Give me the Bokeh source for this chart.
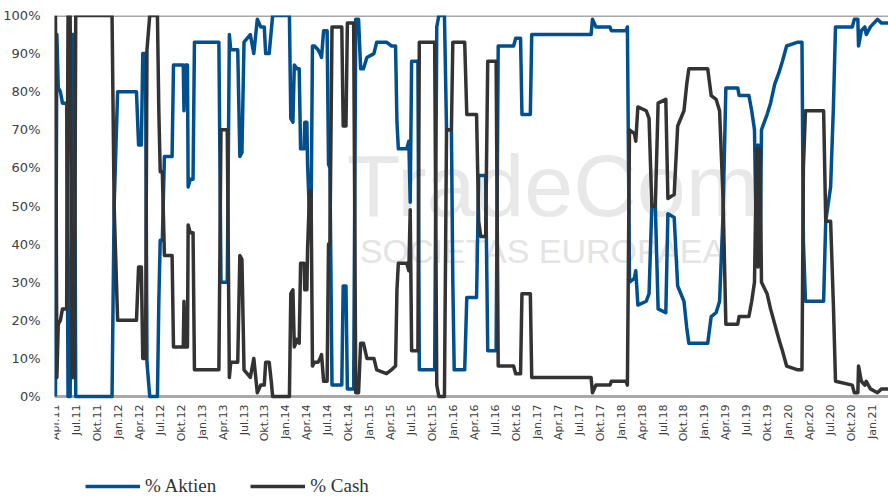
import math
from bokeh.plotting import figure
from bokeh.models import Range1d, SingleIntervalTicker, Legend, LegendItem, CustomJSTickFormatter, Span
from bokeh.core.properties import value
from bokeh.embed import file_html
from bokeh.resources import INLINE

# months since 1 Apr 2011
months = [0.0, 0.2, 0.4, 0.7, 1.0, 1.6, 1.8, 2.1, 2.4, 2.7, 2.9, 8.1, 8.4, 8.9, 11.6, 11.9, 12.3, 12.5, 12.9, 13.1,
          13.5, 14.6, 14.8, 15.0, 15.3, 15.6, 16.7, 16.9, 18.3, 18.4, 18.6, 18.9, 19.0, 19.3, 19.7, 19.9, 23.4, 23.7, 24.6, 24.9,
          25.1, 26.1, 26.4, 26.7, 27.0, 27.9, 28.4, 28.9, 29.4, 29.9, 30.1, 30.6, 30.9, 31.1, 33.5, 33.7, 34.0, 34.2, 34.6, 34.9,
          35.1, 35.6, 35.7, 36.0, 36.1, 36.4, 36.6, 36.8, 37.1, 37.6, 37.9, 38.1, 38.4, 38.9, 39.1, 39.3, 39.6, 41.0, 41.2, 41.6,
          41.8, 42.7, 43.0, 43.4, 43.7, 44.1, 44.6, 45.6, 46.0, 47.4, 48.1, 48.7, 48.9, 49.1, 50.3, 50.6, 50.8, 51.0, 51.9, 52.1,
          54.3, 54.6, 54.9, 55.7, 56.0, 56.7, 56.9, 57.1, 58.6, 58.9, 60.3, 60.6, 60.9, 61.6, 61.9, 63.1, 63.4, 65.6, 65.9, 66.6,
          66.8, 68.0, 68.2, 76.7, 76.9, 77.4, 79.4, 79.6, 81.7, 81.9, 82.2, 82.9, 83.1, 83.4, 84.6, 85.0, 85.4, 85.9, 86.3, 87.4,
          87.7, 88.6, 89.1, 90.0, 90.4, 90.7, 93.4, 93.9, 94.6, 95.1, 95.6, 96.0, 97.7, 97.9, 99.3, 99.7, 100.1, 100.4, 100.6, 100.9,
          101.1, 101.9, 102.4, 103.0, 103.6, 104.1, 104.7, 106.3, 106.9, 107.1, 107.4, 110.0, 110.3, 111.0, 111.4, 111.7, 114.1, 114.4, 114.9, 115.0,
          115.4, 115.9, 116.1, 116.7, 117.7, 118.3, 119.3]

aktien = [0, 95, 81, 80, 77, 77, 0, 0, 95, 95, 0, 0, 50, 80, 80, 66, 66, 90, 90, 9,
          0, 0, 25, 41, 41, 63, 63, 87, 87, 75, 87, 87, 55, 57, 57, 93, 93, 30, 30, 95,
          91, 91, 63, 64, 93, 95, 90, 99, 97, 97, 90, 90, 96, 100, 100, 73, 72, 87, 86, 86,
          65, 65, 72, 72, 61, 46, 46, 92, 92, 91, 90, 89, 96, 96, 61, 60, 3, 3, 29, 29,
          2, 2, 99, 99, 86, 86, 89, 90, 93, 93, 92, 92, 72, 65, 65, 67, 51, 88, 88, 7,
          7, 97, 100, 100, 70, 70, 30, 7, 7, 26, 26, 58, 58, 58, 12, 12, 92, 92, 94, 94,
          74, 74, 95, 95, 99, 97, 97, 96, 96, 97, 30, 31, 33, 24, 25, 27, 50, 50, 23, 22,
          48, 47, 29, 25, 18, 14, 14, 21, 22, 25, 48, 81, 81, 79, 79, 75, 70, 35, 66, 35,
          70, 74, 77, 82, 85, 88, 92, 93, 93, 41, 25, 25, 46, 55, 76, 97, 97, 99, 99, 92,
          96, 97, 95, 97, 99, 98, 98]

cash = [100, 5, 19, 20, 23, 23, 100, 100, 5, 5, 100, 100, 50, 20, 20, 34, 34, 10, 10, 91,
        100, 100, 75, 59, 59, 37, 37, 13, 13, 25, 13, 13, 45, 43, 43, 7, 7, 70, 70, 5,
        9, 9, 37, 36, 7, 5, 10, 1, 3, 3, 9, 9, 4, 0, 0, 27, 28, 13, 15, 14,
        35, 35, 28, 28, 39, 54, 54, 8, 9, 9, 10, 11, 4, 4, 40, 40, 97, 97, 71, 71,
        98, 98, 1, 1, 14, 14, 10, 10, 7, 6, 7, 8, 28, 35, 35, 33, 49, 12, 12, 93,
        93, 3, 0, 0, 70, 70, 93, 93, 93, 74, 74, 46, 42, 42, 88, 88, 8, 8, 6, 6,
        27, 27, 5, 5, 1, 3, 3, 4, 4, 3, 70, 69, 67, 76, 75, 73, 50, 50, 77, 78,
        52, 53, 71, 75, 82, 86, 86, 79, 78, 75, 52, 19, 19, 21, 21, 25, 30, 65, 34, 65,
        30, 27, 23, 19, 15, 12, 8, 7, 7, 60, 75, 75, 46, 46, 24, 4, 3, 1, 1, 8,
        4, 3, 4, 2, 1, 2, 2]

tick_months = list(range(0, 118, 3))
tick_labels = ["Apr.11", "Jul.11", "Okt.11", "Jan.12", "Apr.12", "Jul.12", "Okt.12", "Jan.13",
               "Apr.13", "Jul.13", "Okt.13", "Jan.14", "Apr.14", "Jul.14", "Okt.14", "Jan.15",
               "Apr.15", "Jul.15", "Okt.15", "Jan.16", "Apr.16", "Jul.16", "Okt.16", "Jan.17",
               "Apr.17", "Jul.17", "Okt.17", "Jan.18", "Apr.18", "Jul.18", "Okt.18", "Jan.19",
               "Apr.19", "Jul.19", "Okt.19", "Jan.20", "Apr.20", "Jul.20", "Okt.20", "Jan.21"]
series_names = ["% Aktien", "% Cash"]

BLUE = "#00508f"
DARK = "#333333"
GRAY = "#a9a9a9"
X0, X1 = -0.14, 119.29
Y_BOTTOM = -26.5   # room below the 0% line for the month labels and the legend

p = figure(width=888, height=497, x_range=Range1d(X0, X1), y_range=Range1d(Y_BOTTOM, 100),
           output_backend="svg", toolbar_location=None, x_axis_location=None,
           min_border_left=52, min_border_right=0, min_border_top=15, min_border_bottom=0)
p.outline_line_color = None
p.xgrid.visible = False
p.ygrid.visible = False

# faint watermark, drawn first so the lines lie over it
p.text(x=[41.7], y=[55.4], text=["TradeCom"], text_align="left", text_baseline="middle",
       text_font=value("Liberation Sans"), text_font_size="88px", text_color="#e8e8e8")
p.text(x=[43.6], y=[38.1], text=["SOCIETAS EUROPAEA"], text_align="left", text_baseline="middle",
       text_font=value("Liberation Sans"), text_font_size="34px", text_color="#e4e4e4")

# frame lines at 0% and 100%, left edge
p.add_layout(Span(location=100, dimension="width", line_color=GRAY, line_width=3, level="underlay"))
p.add_layout(Span(location=0, dimension="width", line_color=GRAY, line_width=3, level="underlay"))
p.segment(x0=[X0], y0=[0], x1=[X0], y1=[100], line_color="#cfcfcf", line_width=1.5)

r_a = p.line(months, aktien, line_color=BLUE, line_width=3.5, line_join="round")
r_c = p.line(months, cash, line_color=DARK, line_width=3.5, line_join="round")

# month labels under the 0% line (vertical, reading upwards)
p.text(x=tick_months, y=[-2.1] * len(tick_months), text=tick_labels, angle=math.pi / 2,
       text_align="right", text_baseline="middle", text_font=value("DejaVu Sans"),
       text_font_size="11px", text_color="#404040")

# y axis
p.yaxis.ticker = SingleIntervalTicker(interval=10, num_minor_ticks=0)
p.yaxis.formatter = CustomJSTickFormatter(code="return tick >= 0 ? Math.round(tick) + '%' : '';")
p.yaxis.major_label_standoff = 8
p.yaxis.major_tick_line_color = None
p.yaxis.minor_tick_line_color = None
p.yaxis.axis_line_color = None
p.yaxis.major_label_text_font = "DejaVu Sans"
p.yaxis.major_label_text_font_size = "13px"
p.yaxis.major_label_text_color = "#404040"

# legend
legend = Legend(items=[LegendItem(label=value(series_names[0]), renderers=[r_a]),
                       LegendItem(label=value(series_names[1]), renderers=[r_c])],
                location=(31, 0), orientation="horizontal",
                glyph_width=55, glyph_height=22, label_standoff=5, spacing=34,
                padding=0, margin=0, background_fill_alpha=0, border_line_alpha=0,
                label_text_font="Liberation Sans Narrow", label_text_font_size="19px",
                label_text_color="#333333")
p.add_layout(legend)

open("out.html", "w").write(file_html(p, INLINE))
